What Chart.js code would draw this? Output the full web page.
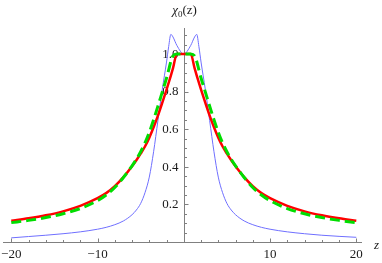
<!DOCTYPE html>
<html><head><meta charset="utf-8">
<script src="https://cdn.jsdelivr.net/npm/chart.js@4.4.1/dist/chart.umd.min.js"></script>
<style>html,body{margin:0;padding:0;background:#fff;overflow:hidden}#wrap{width:382px;height:263px}</style>
</head><body><div id="wrap"><canvas id="c" width="382" height="263"></canvas></div>
<script>
// z sample positions (shared by all three curves)
const zValues = [-20,-18,-16,-14,-12,-10,-9,-8,-7,-6,-5.5,-5,-4.5,-4,-3.5,-3,-2.5,-2,-1.75,-1.5,-1.25,-0.8,0,
                 0.8,1.25,1.5,1.75,2,2.5,3,3.5,4,4.5,5,5.5,6,7,8,9,10,12,14,16,18,20];
// thin blue curve (double-peaked)
const blueValues = [0.022,0.029,0.036,0.044,0.054,0.068,0.078,0.092,0.112,0.145,0.17,0.205,0.262,0.345,0.48,0.645,0.81,0.957,1.04,1.104,1.09,1.045,1.0,
                    1.045,1.09,1.104,1.04,0.957,0.81,0.645,0.48,0.345,0.262,0.205,0.17,0.145,0.112,0.092,0.078,0.068,0.054,0.044,0.036,0.03,0.025];
// thick red curve (flat top)
const redValues = [0.113,0.126,0.142,0.163,0.192,0.233,0.26,0.297,0.345,0.403,0.435,0.47,0.508,0.555,0.61,0.672,0.74,0.81,0.847,0.885,0.925,1.0,1.0,
                   1.0,0.925,0.885,0.847,0.81,0.74,0.672,0.61,0.555,0.508,0.47,0.435,0.403,0.345,0.297,0.26,0.233,0.192,0.163,0.142,0.126,0.113];
// dashed green curve
const greenValues = [0.103,0.115,0.13,0.15,0.178,0.22,0.25,0.29,0.343,0.405,0.44,0.48,0.527,0.583,0.65,0.722,0.797,0.872,0.915,0.96,0.99,1.0,1.0,
                     1.0,0.99,0.96,0.915,0.872,0.797,0.722,0.65,0.583,0.527,0.48,0.44,0.405,0.343,0.29,0.25,0.22,0.178,0.15,0.13,0.115,0.103];
// axis ticks
const xTickValues = [-20,-10,10,20];
const xTickLabels = ['\u221220','\u221210','10','20'];
const yTickValues = [0.2,0.4,0.6,0.8,1.0];
const yTickLabels = ['0.2','0.4','0.6','0.8','1.0'];
const xMinorTicks = [-18,-16,-14,-12,-8,-6,-4,-2,2,4,6,8,12,14,16,18];
const yMinorTicks = [0.05,0.1,0.15,0.25,0.3,0.35,0.45,0.5,0.55,0.65,0.7,0.75,0.85,0.9,0.95,1.05,1.1];

const FONT = '"Liberation Serif","DejaVu Serif",serif';
const AXIS_COLOR = '#808080';

const axesPlugin = {
  id: 'mmaAxes',
  beforeDatasetsDraw(chart) {
    const {ctx, chartArea: a, scales: {x, y}} = chart;
    const x0 = Math.round(x.getPixelForValue(0)) + 0.5;
    const y0 = Math.round(y.getPixelForValue(0)) + 0.5;
    ctx.save();
    ctx.strokeStyle = AXIS_COLOR;
    ctx.lineWidth = 1;
    ctx.beginPath();
    ctx.moveTo(a.left, y0); ctx.lineTo(a.right, y0);
    ctx.moveTo(x0, a.top); ctx.lineTo(x0, a.bottom);
    xTickValues.forEach(v => { const px = Math.round(x.getPixelForValue(v)) + 0.5; ctx.moveTo(px, y0); ctx.lineTo(px, y0 - 4); });
    xMinorTicks.forEach(v => { const px = Math.round(x.getPixelForValue(v)) + 0.5; ctx.moveTo(px, y0); ctx.lineTo(px, y0 - 2.5); });
    yTickValues.forEach(v => { const py = Math.round(y.getPixelForValue(v)) + 0.5; ctx.moveTo(x0, py); ctx.lineTo(x0 + 4, py); });
    yMinorTicks.forEach(v => { const py = Math.round(y.getPixelForValue(v)) + 0.5; ctx.moveTo(x0, py); ctx.lineTo(x0 + 2.5, py); });
    ctx.stroke();

    ctx.fillStyle = '#1a1a1a';
    ctx.font = '13px ' + FONT;
    ctx.textBaseline = 'middle';
    ctx.textAlign = 'center';
    xTickValues.forEach((v, i) => ctx.fillText(xTickLabels[i], x.getPixelForValue(v), y0 + 12));
    ctx.textAlign = 'right';
    yTickValues.forEach((v, i) => ctx.fillText(yTickLabels[i], x0 - 6, y.getPixelForValue(v) + 0.5));

    ctx.textAlign = 'left';
    ctx.textBaseline = 'alphabetic';
    ctx.font = 'italic 13px ' + FONT;
    ctx.fillText('z', a.right + 12, y0 + 6);
    const parts = [
      {t: '\u03C7', f: 'italic 13px ' + FONT, dy: 0},
      {t: '0', f: '9px ' + FONT, dy: 2.5},
      {t: '(z)', f: '13px ' + FONT, dy: 0}
    ];
    let w = 0;
    parts.forEach(p => { ctx.font = p.f; p.w = ctx.measureText(p.t).width; w += p.w; });
    let cx = x0 - w / 2;
    const base = 14;
    parts.forEach(p => { ctx.font = p.f; ctx.fillText(p.t, cx, base + p.dy); cx += p.w; });
    ctx.restore();
  }
};

const toPts = vals => zValues.map((z, i) => ({x: z, y: vals[i]}));

new Chart(document.getElementById('c').getContext('2d'), {
  type: 'line',
  data: {
    datasets: [
      {label: 'green', data: toPts(greenValues), borderColor: '#00dd00', borderWidth: 3, borderDash: [10, 5], order: 0},
      {label: 'red', data: toPts(redValues), borderColor: '#ff0000', borderWidth: 2.5, order: 1},
      {label: 'blue', data: toPts(blueValues), borderColor: '#6f6fff', borderWidth: 1, order: 2}
    ]
  },
  options: {
    responsive: false,
    animation: false,
    devicePixelRatio: 1,
    layout: {padding: {left: 3, right: 20, top: 28, bottom: 21}},
    plugins: {legend: {display: false}, tooltip: {enabled: false}, title: {display: false}},
    elements: {point: {radius: 0}, line: {cubicInterpolationMode: 'monotone', fill: false, borderCapStyle: 'butt'}},
    scales: {
      x: {type: 'linear', min: -20.96, max: 20.66, display: false},
      y: {type: 'linear', min: 0, max: 1.138, display: false}
    }
  },
  plugins: [axesPlugin]
});
</script>
</body></html>
